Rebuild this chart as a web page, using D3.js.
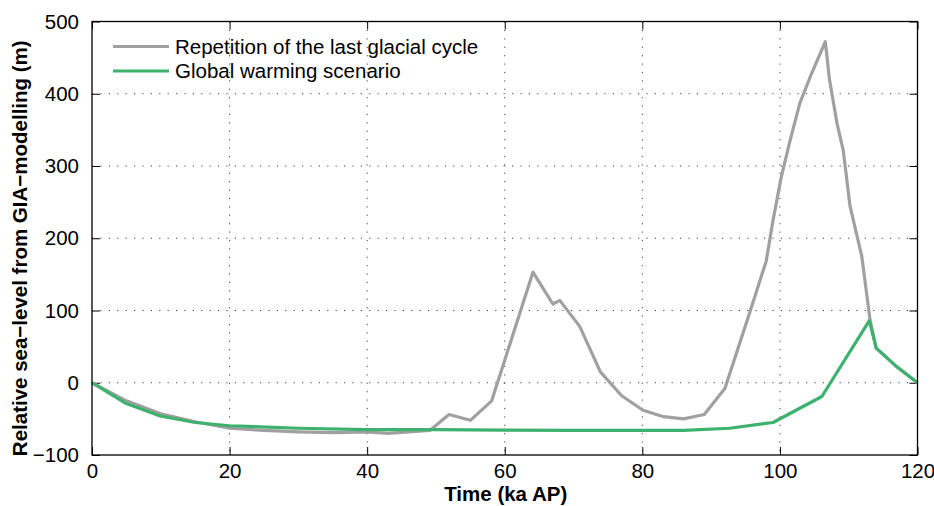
<!DOCTYPE html>
<html>
<head>
<meta charset="utf-8">
<script src="https://cdn.jsdelivr.net/npm/d3@7"></script>
<style>
  body { margin: 0; background: #fff; }
  text { font-family: "Liberation Sans", Arial, sans-serif; }
</style>
</head>
<body>
<svg id="chart" width="934" height="506"></svg>
<script>
// time in ka AP, sea-level in m
var glacialTime = [0, 5, 10, 15, 20, 25, 30, 35, 40, 43, 49.1, 51.9, 55, 58.1, 64.1, 67, 68, 70.9, 73.9, 77, 80.1, 83.1, 86, 89, 92, 95.4, 98, 99, 100.2, 101.5, 102.9, 104.6, 106.6, 107.2, 108.3, 109.2, 110.2, 111.9, 113.1, 114, 117, 120];
var glacialLevel = [0, -25, -43, -54, -63, -66, -68, -69, -68, -70, -66, -44, -52, -25, 153, 109, 114, 78, 15, -18, -38, -47, -50, -44, -8, 91, 168, 225, 285, 336, 387, 428, 472, 420, 359, 322, 244, 175, 87, 48, 22, 0];
var warmTime = [0, 4.8, 9.9, 15, 20, 30, 40, 50, 60, 70, 80, 86, 92.7, 99, 106.1, 113, 114, 117, 120];
var warmLevel = [0, -28, -46, -55, -59.5, -63, -65, -65, -65.5, -66, -66, -66, -63, -55, -19, 86, 48, 22, 0];
var xTicks = [0, 20, 40, 60, 80, 100, 120];
var yTicks = [-100, 0, 100, 200, 300, 400, 500];
var seriesNames = ["Repetition of the last glacial cycle", "Global warming scenario"];
var seriesColors = ["#a0a0a0", "#3cb26e"];

var svg = d3.select("#chart");
var mLeft = 92, mTop = 21.5, mRight = 917.5, mBottom = 455;
var w = mRight - mLeft, h = mBottom - mTop;
var fontSize = 20.5;

var x = d3.scaleLinear().domain([0, 120]).range([0, w]);
var y = d3.scaleLinear().domain([-100, 500]).range([h, 0]);

var g = svg.append("g").attr("transform", "translate(" + mLeft + "," + mTop + ")");

// dotted grid
g.append("g").selectAll("line").data(xTicks.slice(1, -1)).join("line")
  .attr("x1", d => x(d)).attr("x2", d => x(d)).attr("y1", 0).attr("y2", h)
  .attr("stroke", "#000").attr("stroke-width", 1).attr("stroke-dasharray", "1.2,7.2").attr("opacity", 0.75);
g.append("g").selectAll("line").data(yTicks.slice(1, -1)).join("line")
  .attr("y1", d => y(d)).attr("y2", d => y(d)).attr("x1", 0).attr("x2", w)
  .attr("stroke", "#000").attr("stroke-width", 1).attr("stroke-dasharray", "1.2,7.2").attr("opacity", 0.75);

// axes with inward ticks
var tickLen = 8;
var xAxis = g.append("g").attr("transform", "translate(0," + h + ")")
  .call(d3.axisBottom(x).tickValues(xTicks).tickSizeInner(-tickLen).tickSizeOuter(0).tickPadding(-1));
var xAxisTop = g.append("g")
  .call(d3.axisTop(x).tickValues(xTicks).tickSizeInner(-tickLen).tickSizeOuter(0).tickFormat(""));
var yAxis = g.append("g")
  .call(d3.axisLeft(y).tickValues(yTicks).tickSizeInner(-tickLen).tickSizeOuter(0).tickPadding(tickLen + 5)
    .tickFormat(d => d < 0 ? "\u2212" + Math.abs(d) : d));
var yAxisRight = g.append("g").attr("transform", "translate(" + w + ",0)")
  .call(d3.axisRight(y).tickValues(yTicks).tickSizeInner(-tickLen).tickSizeOuter(0).tickFormat(""));

[xAxis, xAxisTop, yAxis, yAxisRight].forEach(a => {
  a.select(".domain").remove();
  a.selectAll("line").attr("stroke", "#000");
  a.selectAll("text").attr("font-size", fontSize).attr("fill", "#000")
    .style("font-family", "'Liberation Sans', Arial, sans-serif");
});
// bottom labels sit just under the box (padding counted from the inward tick)
xAxis.selectAll("text").attr("y", 8);

// data lines
var line = d3.line().x(d => x(d[0])).y(d => y(d[1]));
var glacial = glacialTime.map((t, i) => [t, glacialLevel[i]]);
var warm = warmTime.map((t, i) => [t, warmLevel[i]]);

g.append("path").attr("d", line(glacial)).attr("fill", "none")
  .attr("stroke", seriesColors[0]).attr("stroke-width", 3.2).attr("stroke-linejoin", "round");
g.append("path").attr("d", line(warm)).attr("fill", "none")
  .attr("stroke", seriesColors[1]).attr("stroke-width", 3.2).attr("stroke-linejoin", "round");

// box
g.append("rect").attr("width", w).attr("height", h)
  .attr("fill", "none").attr("stroke", "#000").attr("stroke-width", 1.3);

// legend
var legend = g.append("g");
seriesNames.forEach((name, i) => {
  var ly = 25 + i * 24.5;
  legend.append("line").attr("x1", 21).attr("x2", 77).attr("y1", ly).attr("y2", ly)
    .attr("stroke", seriesColors[i]).attr("stroke-width", 3.2);
  legend.append("text").attr("x", 83).attr("y", ly).attr("dy", "0.35em")
    .attr("font-size", fontSize).text(name);
});

// axis titles
svg.append("text").attr("x", mLeft + w / 2 + 1).attr("y", 501)
  .attr("text-anchor", "middle").attr("font-size", fontSize).attr("font-weight", "bold")
  .text("Time (ka AP)");
svg.append("text").attr("transform", "translate(27," + (mTop + h / 2 + 10) + ") rotate(-90)")
  .attr("text-anchor", "middle").attr("font-size", fontSize).attr("font-weight", "bold")
  .text("Relative sea\u2212level from GIA\u2212modelling (m)");
</script>
</body>
</html>
